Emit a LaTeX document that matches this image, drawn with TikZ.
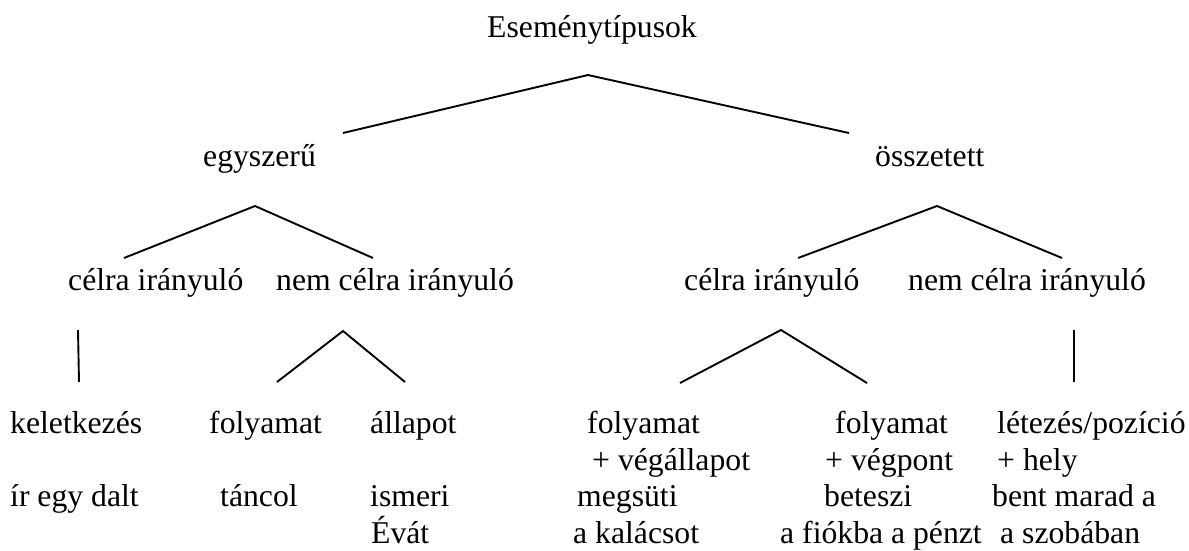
\documentclass[tikz,border=0pt]{standalone}
\usepackage{fontspec}
\setmainfont{Liberation Serif}
\usetikzlibrary{positioning}
\newcommand{\treefont}{\fontsize{31.7}{36.5}\selectfont}
\tikzset{
  lbl/.style={anchor=base west,inner sep=0pt,font=\treefont},
  branch/.style={line width=1.9pt}
}
\begin{document}
\begin{tikzpicture}[x=1pt,y=-1pt]
  \useasboundingbox (0,0) rectangle (1189,550);

  % Root
  \node[lbl,anchor=base] (root) at (592,37) {Eseménytípusok};
  \coordinate (root-top) at (588,75);
  \coordinate (root-l) at (343,133);
  \coordinate (root-r) at (849,133);
  \draw[branch] (root-l) -- (root-top) -- (root-r);

  % Level 1
  \node[lbl] (simple) at (203,166) {egyszerű};
  \node[lbl] (complex) at (875,166) {összetett};
  \coordinate (simple-top) at (255,206);
  \coordinate (simple-l) at (124,258);
  \coordinate (simple-r) at (373,258);
  \coordinate (complex-top) at (937,206);
  \coordinate (complex-l) at (798,258);
  \coordinate (complex-r) at (1062,258);
  \draw[branch] (simple-l) -- (simple-top) -- (simple-r);
  \draw[branch] (complex-l) -- (complex-top) -- (complex-r);

  % Level 2
  \node[lbl] (s-goal) at (68,290) {célra irányuló};
  \node[lbl] (s-nogoal) at (276,290) {nem célra irányuló};
  \node[lbl] (c-goal) at (684,290) {célra irányuló};
  \node[lbl] (c-nogoal) at (908,290) {nem célra irányuló};

  % Level 2 -> 3 branches
  \coordinate (sg-top) at (78,330);
  \coordinate (sg-bot) at (79,382);
  \draw[branch] (sg-top) -- (sg-bot);
  \coordinate (sn-top) at (343,331);
  \coordinate (sn-l) at (277,382);
  \coordinate (sn-r) at (405,382);
  \draw[branch] (sn-l) -- (sn-top) -- (sn-r);
  \coordinate (cg-top) at (781,330);
  \coordinate (cg-l) at (680,383);
  \coordinate (cg-r) at (867,383);
  \draw[branch] (cg-l) -- (cg-top) -- (cg-r);
  \coordinate (cn-top) at (1074,330);
  \coordinate (cn-bot) at (1074,382);
  \draw[branch] (cn-top) -- (cn-bot);

  % Leaves
  \node[lbl] (origin) at (10,433) {keletkezés};
  \node[lbl] (process) at (209,433) {folyamat};
  \node[lbl] (state) at (370,433) {állapot};
  \node[lbl] (proc-end) at (587,433) {folyamat};
  \node[lbl] (proc-pt) at (835,433) {folyamat};
  \node[lbl] (exist) at (997,433) {létezés/pozíció};

  \node[lbl] (proc-end2) at (592,470) {+ végállapot};
  \node[lbl] (proc-pt2) at (825,470) {+ végpont};
  \node[lbl] (exist2) at (997,470) {+ hely};

  % Examples
  \node[lbl] (ex-origin) at (10,506.5) {ír egy dalt};
  \node[lbl] (ex-process) at (220,506.5) {táncol};
  \node[lbl] (ex-state) at (370,506.5) {ismeri};
  \node[lbl] (ex-end) at (577,506.5) {megsüti};
  \node[lbl] (ex-pt) at (824,506.5) {beteszi};
  \node[lbl] (ex-exist) at (992,506.5) {bent marad a};

  \node[lbl] (ex-state2) at (371,543) {Évát};
  \node[lbl] (ex-end2) at (573,543) {a kalácsot};
  \node[lbl] (ex-pt2) at (780,543) {a fiókba a pénzt};
  \node[lbl] (ex-exist2) at (1000,543) {a szobában};
\end{tikzpicture}
\end{document}
